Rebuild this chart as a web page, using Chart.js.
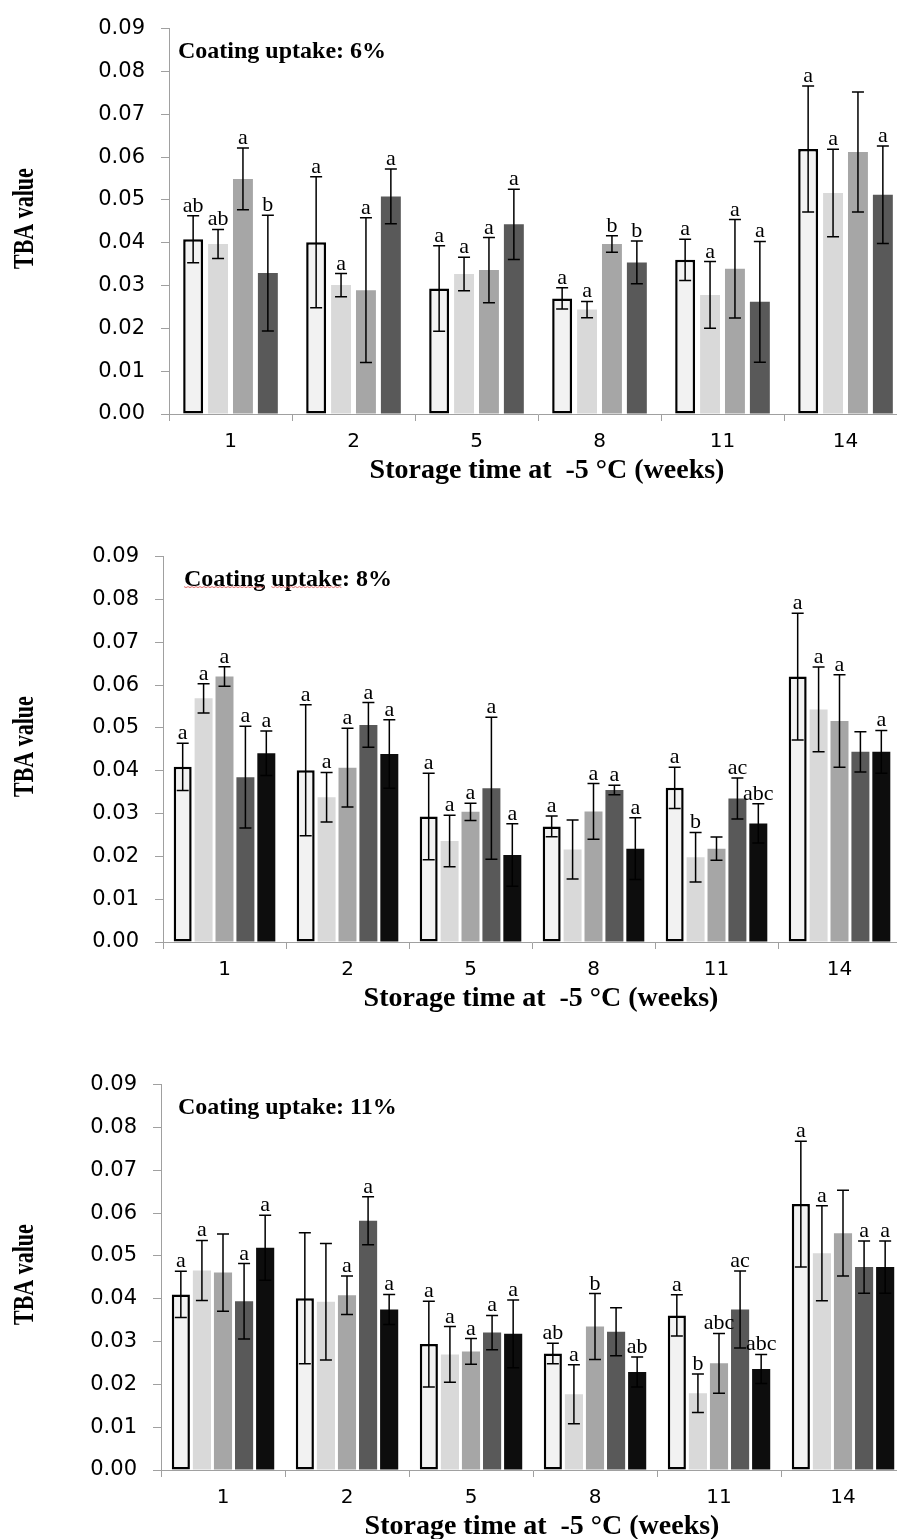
<!DOCTYPE html>
<html>
<head>
<meta charset="utf-8">
<script src="https://cdn.jsdelivr.net/npm/chart.js@4.4.1/dist/chart.umd.min.js"></script>
<style>
html, body { margin: 0; padding: 0; background: #fff; overflow: hidden; width: 897px; height: 1539px; position: relative; }
canvas { position: absolute; left: 0; }
</style>
</head>
<body>
<canvas id="c1" width="910" height="528" style="top:0px"></canvas>
<canvas id="c2" width="910" height="528" style="top:528px"></canvas>
<canvas id="c3" width="910" height="528" style="top:1056px"></canvas>
<script>
// storage weeks (x categories)
var weeks = ['1', '2', '5', '8', '11', '14'];
var yTickValues = [0, 0.01, 0.02, 0.03, 0.04, 0.05, 0.06, 0.07, 0.08, 0.09];

// coating uptake 6% - 4 series
var p1Mean1 = [0.0408, 0.0401, 0.0293, 0.0270, 0.0360, 0.0619];
var p1Err1  = [0.0055, 0.0153, 0.0100, 0.0025, 0.0048, 0.0147];
var p1Let1  = ['ab', 'a', 'a', 'a', 'a', 'a'];
var p1Mean2 = [0.0397, 0.0301, 0.0327, 0.0244, 0.0278, 0.0516];
var p1Err2  = [0.0034, 0.0027, 0.0039, 0.0019, 0.0078, 0.0102];
var p1Let2  = ['ab', 'a', 'a', 'a', 'a', 'a'];
var p1Mean3 = [0.0549, 0.0289, 0.0336, 0.0397, 0.0339, 0.0612];
var p1Err3  = [0.0072, 0.0169, 0.0076, 0.0019, 0.0115, 0.0140];
var p1Let3  = ['a', 'a', 'a', 'b', 'a', ''];
var p1Mean4 = [0.0329, 0.0508, 0.0443, 0.0354, 0.0262, 0.0512];
var p1Err4  = [0.0135, 0.0064, 0.0082, 0.0050, 0.0141, 0.0114];
var p1Let4  = ['b', 'a', 'a', 'b', 'a', 'a'];

// coating uptake 8% - 5 series
var p2Mean1 = [0.0409, 0.0401, 0.0293, 0.0270, 0.0360, 0.0620];
var p2Err1  = [0.0055, 0.0153, 0.0101, 0.0024, 0.0048, 0.0148];
var p2Let1  = ['a', 'a', 'a', 'a', 'a', 'a'];
var p2Mean2 = [0.0569, 0.0338, 0.0236, 0.0216, 0.0198, 0.0543];
var p2Err2  = [0.0034, 0.0058, 0.0060, 0.0069, 0.0058, 0.0099];
var p2Let2  = ['a', 'a', 'a', '', 'b', 'a'];
var p2Mean3 = [0.0620, 0.0407, 0.0304, 0.0305, 0.0218, 0.0516];
var p2Err3  = [0.0023, 0.0092, 0.0020, 0.0065, 0.0027, 0.0108];
var p2Let3  = ['a', 'a', 'a', 'a', '', 'a'];
var p2Mean4 = [0.0385, 0.0507, 0.0359, 0.0355, 0.0335, 0.0444];
var p2Err4  = [0.0119, 0.0052, 0.0166, 0.0011, 0.0048, 0.0047];
var p2Let4  = ['a', 'a', 'a', 'a', 'ac', ''];
var p2Mean5 = [0.0441, 0.0439, 0.0203, 0.0218, 0.0277, 0.0444];
var p2Err5  = [0.0052, 0.0080, 0.0073, 0.0072, 0.0046, 0.0050];
var p2Let5  = ['a', 'a', 'a', 'a', 'abc', 'a'];

// coating uptake 11% - 5 series
var p3Mean1 = [0.0410, 0.0401, 0.0294, 0.0272, 0.0361, 0.0621];
var p3Err1  = [0.0054, 0.0153, 0.0100, 0.0024, 0.0048, 0.0147];
var p3Let1  = ['a', '', 'a', 'ab', 'a', 'a'];
var p3Mean2 = [0.0466, 0.0393, 0.0270, 0.0177, 0.0179, 0.0506];
var p3Err2  = [0.0070, 0.0136, 0.0065, 0.0069, 0.0045, 0.0111];
var p3Let2  = ['a', '', 'a', 'a', 'b', 'a'];
var p3Mean3 = [0.0461, 0.0408, 0.0277, 0.0335, 0.0249, 0.0553];
var p3Err3  = [0.0090, 0.0045, 0.0030, 0.0077, 0.0070, 0.0100];
var p3Let3  = ['', 'a', 'a', 'b', 'abc', ''];
var p3Mean4 = [0.0394, 0.0582, 0.0321, 0.0323, 0.0375, 0.0474];
var p3Err4  = [0.0088, 0.0056, 0.0040, 0.0056, 0.0090, 0.0061];
var p3Let4  = ['a', 'a', 'a', '', 'ac', 'a'];
var p3Mean5 = [0.0519, 0.0375, 0.0318, 0.0229, 0.0236, 0.0474];
var p3Err5  = [0.0076, 0.0035, 0.0079, 0.0035, 0.0034, 0.0061];
var p3Let5  = ['a', 'a', 'a', 'ab', 'abc', 'a'];

var fills = ['#f2f2f2', '#d9d9d9', '#a6a6a6', '#595959', '#0d0d0d'];
var axisGray = '#a0a0a0';

//误差线 + 字母标注 + 文本
var extras = {
    id: 'extras',
    afterDatasetsDraw: function (chart) {
        var ctx = chart.ctx;
        var y = chart.scales.y;
        ctx.save();
        chart.data.datasets.forEach(function (ds, i) {
            var meta = chart.getDatasetMeta(i);
            meta.data.forEach(function (bar, j) {
                var m = ds.data[j], e = ds.err[j];
                var yt = y.getPixelForValue(m + e);
                var yb = y.getPixelForValue(m - e);
                ctx.strokeStyle = '#000';
                ctx.lineWidth = 1.5;
                ctx.beginPath();
                ctx.moveTo(bar.x, yt); ctx.lineTo(bar.x, yb);
                ctx.moveTo(bar.x - 6, yt); ctx.lineTo(bar.x + 6, yt);
                ctx.moveTo(bar.x - 6, yb); ctx.lineTo(bar.x + 6, yb);
                ctx.stroke();
                if (ds.letters[j]) {
                    ctx.fillStyle = '#000';
                    ctx.font = '22px "Liberation Serif"';
                    ctx.textAlign = 'center';
                    ctx.textBaseline = 'alphabetic';
                    ctx.fillText(ds.letters[j], bar.x, yt - 4);
                }
            });
        });
        ctx.restore();
    },
    afterDraw: function (chart) {
        var ctx = chart.ctx;
        var a = chart.chartArea;
        var o = chart.options.plugins.extras;
        ctx.save();
        ctx.fillStyle = '#000';
        // panel title
        ctx.font = 'bold 24px "Liberation Serif"';
        ctx.textAlign = 'left';
        ctx.textBaseline = 'alphabetic';
        ctx.fillText(o.title, a.left + o.titleDx, a.top + 29);
        if (o.squiggle) {
            var w1 = ctx.measureText('Coating').width;
            var w2 = ctx.measureText('Coating ').width;
            var w3 = ctx.measureText('Coating uptake').width;
            ctx.strokeStyle = '#e07070';
            ctx.lineWidth = 1;
            [[0, w1], [w2, w3]].forEach(function (seg) {
                ctx.beginPath();
                var x0 = a.left + o.titleDx + seg[0];
                var yy = a.top + 30;
                for (var k = 0; x0 + k * 2 <= a.left + o.titleDx + seg[1]; k++) {
                    var px = x0 + k * 2, py = yy + (k % 2 ? 1 : 0);
                    if (k === 0) ctx.moveTo(px, py); else ctx.lineTo(px, py);
                }
                ctx.stroke();
            });
        }
        // x axis title
        ctx.font = 'bold 28px "Liberation Serif"';
        ctx.textAlign = 'center';
        ctx.fillText('Storage time at  -5 °C (weeks)', (a.left + a.right) / 2 + 9, a.bottom + 64);
        // y axis title
        ctx.translate(33, a.top + 190);
        ctx.rotate(-Math.PI / 2);
        ctx.scale(1, 1.3);
        ctx.font = 'bold 22px "Liberation Serif"';
        ctx.textAlign = 'center';
        ctx.fillText('TBA value', 0, 0);
        ctx.restore();
    }
};

function makeDatasets(means, errs, lets, bp) {
    return means.map(function (m, i) {
        return {
            label: 'Series ' + (i + 1),
            data: m,
            err: errs[i],
            letters: lets[i],
            backgroundColor: fills[i],
            borderColor: '#000',
            borderWidth: i === 0 ? 2.5 : 0,
            borderSkipped: false,
            barPercentage: bp
        };
    });
}

function TBAChart(id, datasets, cp, plotLeft, padRight, title, titleDx, squiggle) {
    var ctx = document.getElementById(id).getContext('2d');
    return new Chart(ctx, {
        type: 'bar',
        data: { labels: weeks, datasets: datasets },
        options: {
            responsive: false,
            animation: false,
            devicePixelRatio: 1,
            categoryPercentage: cp,
            layout: { padding: { top: 23, right: padRight, bottom: 64, left: 0 } },
            plugins: {
                legend: { display: false },
                tooltip: { enabled: false },
                extras: { title: title, titleDx: titleDx, squiggle: squiggle }
            },
            scales: {
                x: {
                    grid: { drawOnChartArea: false, tickLength: 7, color: axisGray, offset: true },
                    border: { color: axisGray, width: 1 },
                    ticks: { color: '#000', font: { family: 'DejaVu Sans', size: 20 }, padding: 9 },
                    afterFit: function (s) { s.height = 50; }
                },
                y: {
                    min: 0,
                    max: 0.09,
                    afterBuildTicks: function (s) { s.ticks = yTickValues.map(function (v) { return { value: v }; }); },
                    grid: { drawOnChartArea: false, tickLength: 8, color: axisGray },
                    border: { color: axisGray, width: 1 },
                    ticks: {
                        color: '#000',
                        font: { family: 'DejaVu Sans', size: 21 },
                        padding: 16,
                        callback: function (v) { return Number(v).toFixed(2); }
                    },
                    afterFit: function (s) { s.width = plotLeft; }
                }
            }
        },
        plugins: [extras]
    });
}

TBAChart('c1', makeDatasets([p1Mean1, p1Mean2, p1Mean3, p1Mean4], [p1Err1, p1Err2, p1Err3, p1Err4], [p1Let1, p1Let2, p1Let3, p1Let4], 0.8),
    0.81, 169, 3, 'Coating uptake: 6%', 9, false);
TBAChart('c2', makeDatasets([p2Mean1, p2Mean2, p2Mean3, p2Mean4, p2Mean5], [p2Err1, p2Err2, p2Err3, p2Err4, p2Err5], [p2Let1, p2Let2, p2Let3, p2Let4, p2Let5], 0.86),
    0.85, 163, 9, 'Coating uptake: 8%', 21, true);
TBAChart('c3', makeDatasets([p3Mean1, p3Mean2, p3Mean3, p3Mean4, p3Mean5], [p3Err1, p3Err2, p3Err3, p3Err4, p3Err5], [p3Let1, p3Let2, p3Let3, p3Let4, p3Let5], 0.86),
    0.85, 161, 5, 'Coating uptake: 11%', 17, false);
</script>
</body>
</html>
